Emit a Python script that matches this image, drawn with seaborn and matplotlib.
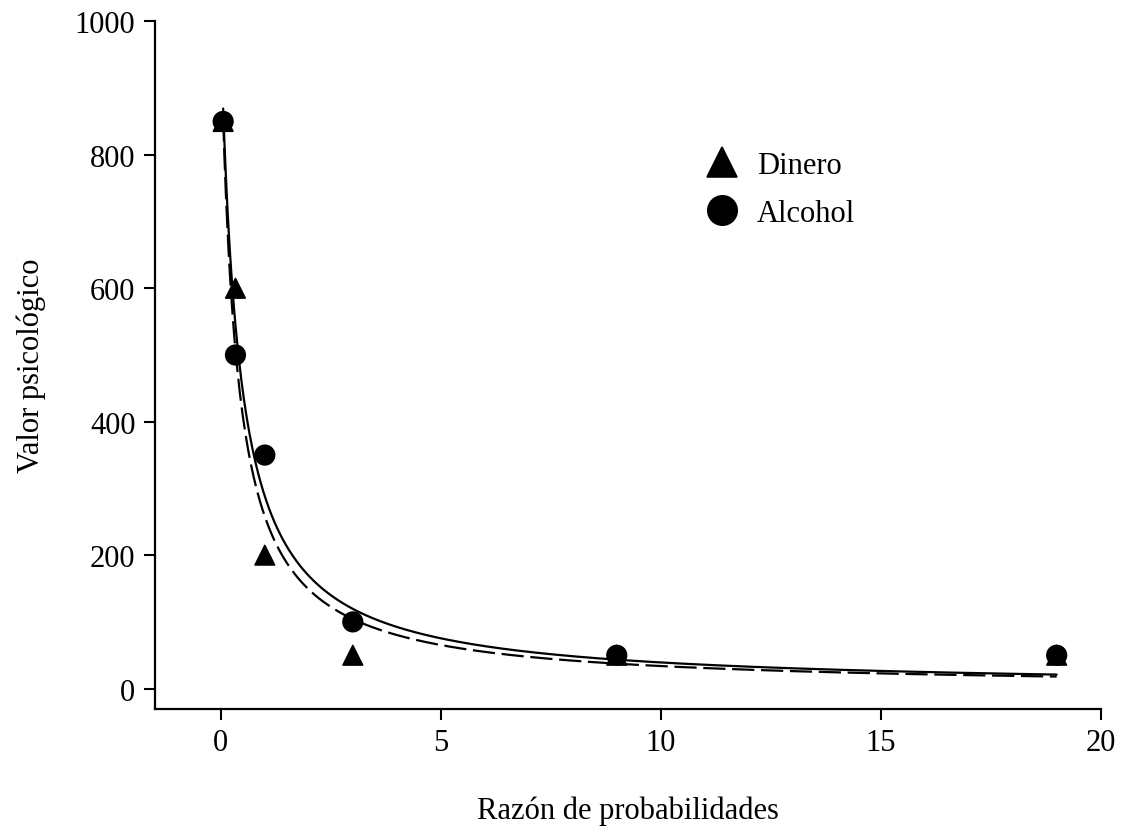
import numpy as np
import pandas as pd
import matplotlib
matplotlib.use("Agg")
import matplotlib.pyplot as plt
import seaborn as sns

# Data
odds = [0.053, 0.333, 1, 3, 9, 19]
dinero = [850, 600, 200, 50, 50, 50]
alcohol = [850, 500, 350, 100, 50, 50]

# Hyperbolic fits V = A / (1 + h * odds)
A_alcohol, h_alcohol = 980, 2.4
A_dinero, h_dinero = 980, 2.8

sns.set_theme(style="ticks")
plt.rcParams['font.family'] = ['Liberation Serif', 'DejaVu Serif']
plt.rcParams['text.color'] = 'black'
plt.rcParams['axes.labelcolor'] = 'black'

fig = plt.figure(figsize=(11.22, 8.29), dpi=100)
ax = fig.add_axes([0.138, 0.144, 0.843, 0.829])

df = pd.DataFrame({
    "odds": odds * 2,
    "valor": dinero + alcohol,
    "grupo": ["Dinero"] * len(odds) + ["Alcohol"] * len(odds),
})

xs = np.linspace(min(odds), max(odds), 600)
curves = pd.DataFrame({
    "x": np.concatenate([xs, xs]),
    "y": np.concatenate([A_alcohol / (1 + h_alcohol * xs), A_dinero / (1 + h_dinero * xs)]),
    "fit": ["Alcohol"] * len(xs) + ["Dinero"] * len(xs),
})
sns.lineplot(data=curves[curves.fit == "Alcohol"], x="x", y="y", color="black",
             linewidth=1.6, ax=ax, legend=False)
sns.lineplot(data=curves[curves.fit == "Dinero"], x="x", y="y", color="black",
             linewidth=1.6, ax=ax, legend=False, linestyle=(0, (10, 3)))

sns.scatterplot(data=df, x="odds", y="valor", style="grupo",
                markers={"Dinero": "^", "Alcohol": "o"},
                style_order=["Dinero", "Alcohol"],
                color="black", edgecolor="black", s=200, ax=ax, zorder=3)

ax.set_xlim(-1.5, 20)
ax.set_ylim(-30, 1000)
ax.set_xticks([0, 5, 10, 15, 20])
ax.set_yticks([0, 200, 400, 600, 800, 1000])
ax.tick_params(axis="both", direction="out", length=8, width=1.5, labelsize=22,
               colors="black", pad=6)
for s in ["left", "bottom"]:
    ax.spines[s].set_linewidth(1.6)
    ax.spines[s].set_color("black")
sns.despine(ax=ax)

ax.set_xlabel("Razón de probabilidades", fontsize=22, labelpad=28, color="black")
ax.set_ylabel("Valor psicológico", fontsize=22, labelpad=21, color="black")

leg = ax.legend(loc="upper left", bbox_to_anchor=(0.538, 0.852), frameon=False,
                fontsize=22, handletextpad=0.15, labelspacing=0.62, title=None,
                markerscale=1.5, labelcolor="black")

fig.savefig("out.png", dpi=100)
